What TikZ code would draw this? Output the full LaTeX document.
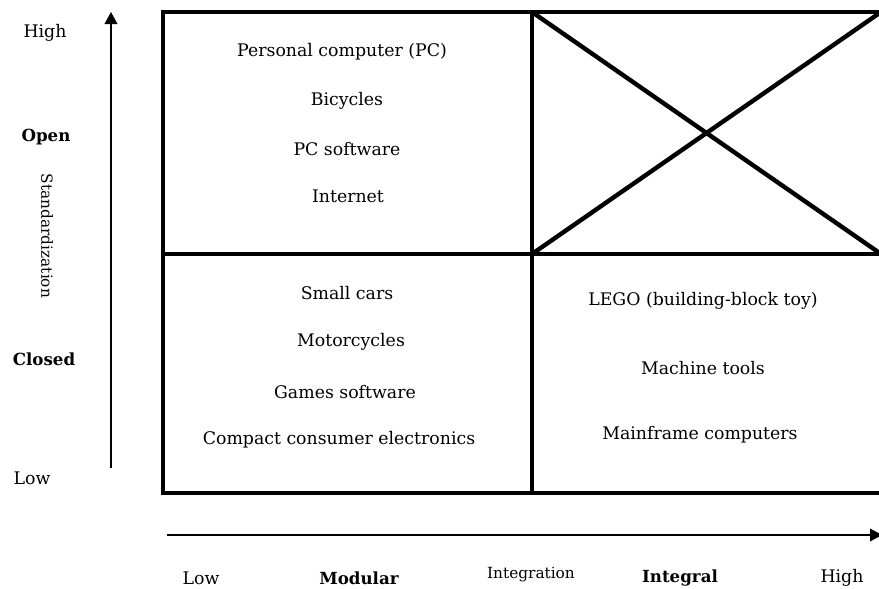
\documentclass[tikz,border=0pt]{standalone}
\usepackage{fontspec}
\setmainfont{DejaVu Serif}
\usetikzlibrary{arrows.meta}
\begin{document}
\begin{tikzpicture}[x=0.75pt,y=-0.75pt,
every node/.style={inner sep=0pt,font=\fontsize{13}{15}\selectfont},
grid/.style={line width=3.3pt},
axis/.style={line width=1.1pt,-{Triangle[length=9pt,width=9.5pt]}},
pole/.style={font=\fontsize{12.5}{15}\selectfont\bfseries},
small/.style={font=\fontsize{11.5}{14}\selectfont}]
\useasboundingbox (0,0) rectangle (879,589);
\clip (0,0) rectangle (879,589);
% frame corners
\coordinate (nw) at (163,12);
\coordinate (w) at (163,254);
\coordinate (sw) at (163,493);
\coordinate (n) at (532,12);
\coordinate (c) at (532,254);
\coordinate (s) at (532,493);
\coordinate (ne) at (881,12);
\coordinate (e) at (881,254);
\coordinate (nx) at (895,12);
\coordinate (sx) at (895,493);
\draw[grid] (nx) -- (nw) -- (sw) -- (sx);
\draw[grid] (w) -- (e);
\draw[grid] (n) -- (s);
\draw[grid] (n) -- (e);
\draw[grid] (c) -- (ne);
% axes
\coordinate (ybot) at (111,468);
\coordinate (ytop) at (111,12);
\coordinate (xleft) at (167,535);
\coordinate (xright) at (882,535);
\draw[axis] (ybot) -- (ytop);
\draw[axis] (xleft) -- (xright);
% vertical axis labels
\node (yhigh) at (45,33) {High};
\node[pole] (open) at (46,137) {Open};
\node[small,rotate=-90] (std) at (47,236) {Standardization};
\node[pole] (closed) at (44,359) {Closed};
\node (ylow) at (32,478) {Low};
% horizontal axis labels
\node (xlow) at (201,578) {Low};
\node[pole] (modular) at (359,578) {Modular};
\node[small] (integ) at (531,575) {Integration};
\node[pole] (integral) at (680,578) {Integral};
\node (xhigh) at (842,578) {High};
% open and modular
\node (pc) at (342,52) {Personal computer (PC)};
\node (bike) at (347,101) {Bicycles};
\node (pcsw) at (347,149) {PC software};
\node (net) at (348,196) {Internet};
% closed and modular
\node (cars) at (347,293) {Small cars};
\node (moto) at (351,342) {Motorcycles};
\node (games) at (345,392) {Games software};
\node (elec) at (339,440) {Compact consumer electronics};
% closed and integral
\node (lego) at (703,301) {LEGO (building-block toy)};
\node (tools) at (703,368) {Machine tools};
\node (main) at (700,435) {Mainframe computers};
\end{tikzpicture}
\end{document}
